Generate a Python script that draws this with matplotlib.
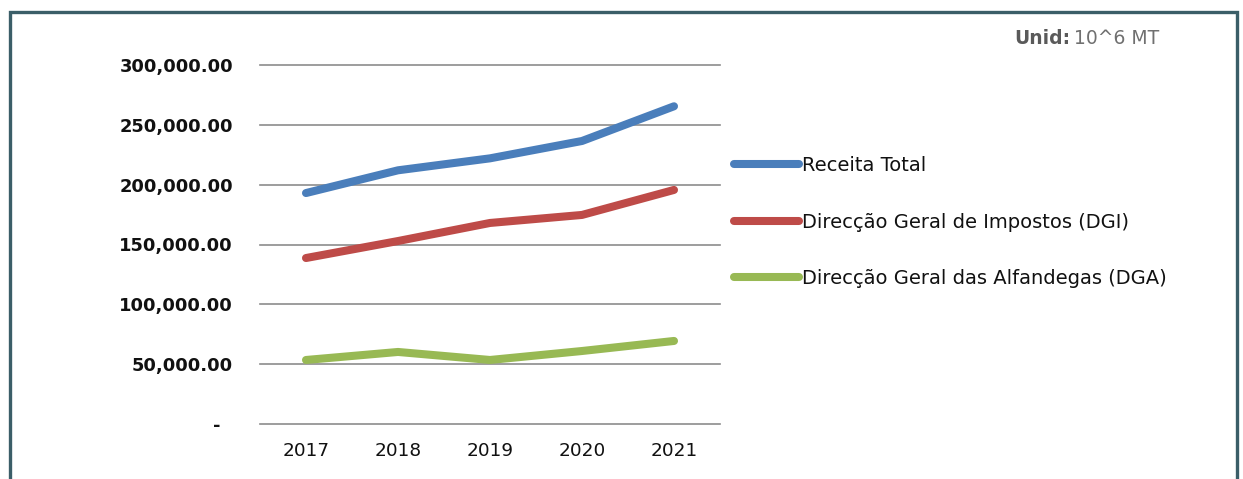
import matplotlib
matplotlib.use("Agg")
import matplotlib.pyplot as plt
from matplotlib.patches import Rectangle
from matplotlib.ticker import FuncFormatter

years = ["2017", "2018", "2019", "2020", "2021"]
receita_total = [193000, 212000, 222000, 236500, 265500]
dgi = [138700, 152900, 168000, 174700, 195600]
dga = [53500, 60200, 53500, 61000, 69400]
series_names = ["Receita Total", "Direcção Geral de Impostos (DGI)",
                "Direcção Geral das Alfandegas (DGA)"]
colors = ["#4A7EBB", "#BE4B48", "#98B954"]
yticks = [0, 50000, 100000, 150000, 200000, 250000, 300000]

W, H = 1243, 479
fig = plt.figure(figsize=(W / 100, H / 100), dpi=100)
fig.patch.set_facecolor("white")

ax = fig.add_axes([260 / W, 1 - 424 / H, 460 / W, (424 - 65) / H])
x = [i + 0.5 for i in range(len(years))]
for vals, name, c in zip([receita_total, dgi, dga], series_names, colors):
    ax.plot(x, vals, color=c, lw=5.8, solid_capstyle="round",
            solid_joinstyle="round", label=name)

ax.set_xlim(0, len(years))
ax.set_ylim(0, 300000)
ax.set_yticks(yticks)
ax.set_xticks(x)
ax.set_xticklabels(years, fontsize=13.3, family="DejaVu Sans", color="#111111")
ax.yaxis.grid(True, color="#8C8C8C", lw=1.2)
ax.set_axisbelow(True)
for gl in ax.get_ygridlines():
    gl.set_clip_on(False)
for s in ax.spines.values():
    s.set_visible(False)
ax.tick_params(length=0)
ax.tick_params(axis="y", pad=19.4)
ax.tick_params(axis="x", pad=13)


def fmt(v, pos):
    if v == 0:
        return "-  "
    return f"{v:,.2f}"


ax.yaxis.set_major_formatter(FuncFormatter(fmt))
for lbl in ax.get_yticklabels():
    lbl.set_fontweight("bold")
    lbl.set_fontsize(12.9)
    lbl.set_family("DejaVu Sans")
    lbl.set_color("#111111")

handles, labels = ax.get_legend_handles_labels()
leg = fig.legend(handles, labels, loc="upper left",
                 bbox_to_anchor=(734 / W, 1 - 156 / H), frameon=False,
                 prop={"family": "DejaVu Sans", "size": 14},
                 handlelength=3.34, handletextpad=0.15, labelspacing=1.93,
                 borderaxespad=0, borderpad=0)
for t in leg.get_texts():
    t.set_color("#111111")

fig.text(1074 / W, 1 - 38 / H, "10^6 MT", ha="left", va="center",
         fontsize=13.5, color="#707070", family="DejaVu Sans")
fig.text(1070 / W, 1 - 38 / H, "Unid:", ha="right", va="center",
         fontsize=13.5, color="#5A5A5A", family="DejaVu Sans", fontweight="bold")

frame = Rectangle((10 / W, -0.1), 1227 / W, 1.1 - 12 / H,
                  transform=fig.transFigure, fill=False,
                  edgecolor="#3B5E68", lw=2.4, zorder=10)
fig.patches.append(frame)

fig.savefig("out.png", dpi=100, facecolor="white")
